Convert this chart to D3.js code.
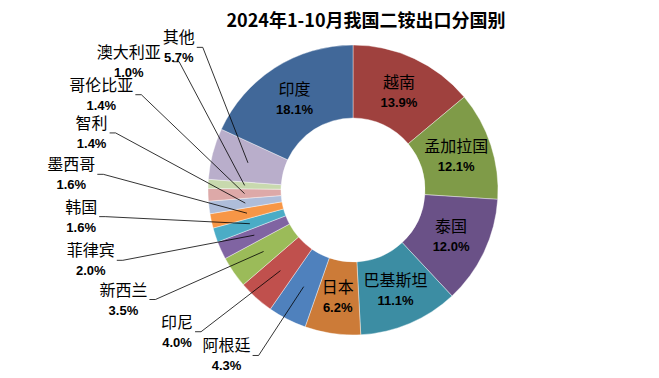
<!DOCTYPE html>
<html lang="zh">
    <head>
        <meta charset="utf-8">
        <title>2024年1-10月我国二铵出口分国别</title>
        <script src="https://d3js.org/d3.v7.min.js"></script>
        <style type="text/css">
            body {
                margin: 0;
                background: white;
            }
            .title {
                font-family: "Noto Sans CJK SC", sans-serif;
                font-size: 18px;
                font-weight: bold;
            }
            .name {
                font-family: "Noto Sans CJK SC", sans-serif;
                font-size: 16px;
            }
            .pct {
                font-family: "Liberation Sans", Arial, sans-serif;
                font-size: 13px;
                font-weight: bold;
            }
            .leader {
                stroke: black;
                stroke-width: 0.8px;
                fill: none;
            }
        </style>
    </head>
    <body>
        <svg width="659" height="378"></svg>
        <script type="text/javascript">

            // data, clockwise from 12 o'clock
            const countries = ["越南", "孟加拉国", "泰国", "巴基斯坦", "日本", "阿根廷", "印尼", "新西兰",
                               "菲律宾", "韩国", "墨西哥", "智利", "哥伦比亚", "澳大利亚", "其他", "印度"];
            const shares = [13.9, 12.1, 12.0, 11.1, 6.2, 4.3, 4.0, 3.5, 2.0, 1.6, 1.6, 1.4, 1.4, 1.0, 5.7, 18.1];
            const colors = ["#9F413E", "#7F9B48", "#6A5187", "#3C8DA3", "#CC7B38", "#4F81BD", "#C0504D", "#9BBB59",
                            "#8064A2", "#4BACC6", "#F79646", "#AEBDDA", "#DDA9A8", "#C8D9AE", "#B9AECB", "#416899"];
            const titleText = "2024年1-10月我国二铵出口分国别";

            const svg = d3.select("svg");
            const cx = 353, cy = 190;
            const outerRadius = 145;
            const innerRadius = 72;
            const fmt = v => d3.format(".1f")(v) + "%";

            const pie = d3.pie().sort(null).value(d => d);
            const arcs = d3.arc().innerRadius(innerRadius).outerRadius(outerRadius);
            const slices = pie(shares);

            const g = svg.append("g").attr("transform", "translate(" + cx + "," + cy + ")");

            g.selectAll("path")
                .data(slices)
                .enter()
                .append("path")
                .attr("d", arcs)
                .attr("fill", (d, i) => colors[i])
                .attr("stroke", "white")
                .attr("stroke-width", 0.4);

            // big slices: label inside
            const inside = slices.filter(d => d.value >= 6);
            const inG = g.selectAll("g.in")
                .data(inside)
                .enter()
                .append("g")
                .attr("transform", d => "translate(" + arcs.centroid(d) + ")");
            inG.append("text")
                .attr("class", "name")
                .attr("text-anchor", "middle")
                .attr("y", -4)
                .text(d => countries[d.index]);
            inG.append("text")
                .attr("class", "pct")
                .attr("text-anchor", "middle")
                .attr("y", 15)
                .text(d => fmt(d.value));

            // small slices: labels spread on an ellipse to the left, with leader lines
            const outside = slices.filter(d => d.value < 6);
            const ea = outerRadius * 1.77, eb = outerRadius * 1.24;
            const deg = d => (d.startAngle + d.endAngle) / 2 * 180 / Math.PI;
            // forward pass: push labels apart
            let prev = -Infinity;
            outside.forEach(d => {
                d.phi = Math.max(deg(d) - 4, prev + 14.5);
                prev = d.phi;
            });
            // backward pass: keep the top ones below the title
            const last = outside.length - 1;
            let next = deg(outside[last]) + 38;
            for (let i = last; i >= 0; i--) {
                outside[i].phi = Math.min(outside[i].phi, next);
                next = outside[i].phi - (i === last ? 7 : 13.5);
            }
            outside.forEach(d => {
                const r = d.phi * Math.PI / 180;
                d.lx = ea * Math.sin(r);
                d.ly = -eb * Math.cos(r);
            });

            g.selectAll("polyline")
                .data(outside)
                .enter()
                .append("polyline")
                .attr("class", "leader")
                .attr("points", d => {
                    const c = arcs.centroid(d);
                    return [[d.lx, d.ly], [d.lx + 6, d.ly], c].map(p => p.join(",")).join(" ");
                });

            const outG = g.selectAll("g.out")
                .data(outside)
                .enter()
                .append("g");
            outG.append("text")
                .attr("class", "name")
                .attr("text-anchor", "end")
                .attr("x", d => d.lx - 2)
                .attr("y", d => d.ly - 4)
                .text(d => countries[d.index]);
            outG.each(function(d) {
                const grp = d3.select(this);
                const w = grp.select("text").node().getComputedTextLength();
                grp.append("text")
                    .attr("class", "pct")
                    .attr("text-anchor", "middle")
                    .attr("x", d.lx - 2 - w / 2)
                    .attr("y", d.ly + 15)
                    .text(fmt(d.value));
            });

            // a label sitting beside the one above it (same row) slides left to clear it
            const nodes = outG.nodes();
            for (let i = nodes.length - 2; i >= 0; i--) {
                const da = outside[i + 1], db = outside[i];
                if (Math.abs(db.ly - da.ly) > 20) continue;
                const a = nodes[i + 1].getBBox(), b = nodes[i].getBBox();
                if (b.x + b.width > a.x - 2) {
                    const dx = (a.x - 2) - (b.x + b.width);
                    d3.select(nodes[i]).attr("transform", "translate(" + dx + ",0)");
                }
            }

            //Title
            svg.append("text")
                .attr("class", "title")
                .attr("x", 366)
                .attr("y", 27)
                .attr("text-anchor", "middle")
                .text(titleText);

        </script>
    </body>
</html>
